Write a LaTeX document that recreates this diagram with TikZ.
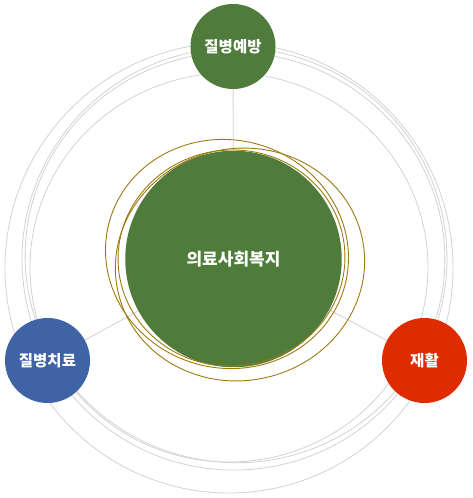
\documentclass[tikz,border=0pt]{standalone}
\usepackage{fontspec}
\setmainfont{Noto Sans CJK KR}
\definecolor{cgreen}{HTML}{507C3B}
\definecolor{cblue}{HTML}{4063A6}
\definecolor{cred}{HTML}{DF2B00}
\definecolor{cgold}{HTML}{9C7A12}
\definecolor{cgray}{HTML}{D2D2D2}
\tikzset{
  orb/.style={circle, inner sep=0pt, text=white, font=\fontsize{15.5}{18}\selectfont\bfseries},
  ring/.style={draw=cgray, line width=0.8pt},
  goldring/.style={draw=cgold, line width=0.9pt},
  link/.style={draw=cgray, line width=0.8pt}
}
\begin{document}
\begin{tikzpicture}[x=1pt,y=-1pt]
\useasboundingbox (0,0) rectangle (472,498);
% gray orbit rings
\draw[ring] (229,268) ellipse [x radius=224, y radius=225];
\draw[ring, rotate around={8:(234.5,259)}] (234.5,259) ellipse [x radius=212.5, y radius=211];
\draw[ring, rotate around={-10:(235,257.5)}] (235,257.5) ellipse [x radius=210, y radius=205];
\draw[ring] (229,267.5) ellipse [x radius=199, y radius=194.5];
% nodes (positions)
\coordinate (cc) at (233.5,259);
\coordinate (tc) at (233,46.5);
\coordinate (lc) at (47.5,360.5);
\coordinate (rc) at (424.5,360.5);
% connectors
\draw[link] (cc) -- (tc);
\draw[link] (cc) -- (lc);
\draw[link] (cc) -- (rc);
% center
\node[orb, fill=cgreen, minimum size=216.5pt, font=\fontsize{17}{20}\selectfont\bfseries] (center) at (cc) {의료사회복지};
% gold rings
\draw[goldring, rotate around={-15:(227,254)}] (227,254) ellipse [x radius=122, y radius=114];
\draw[goldring, rotate around={12:(240,264.5)}] (240,264.5) ellipse [x radius=125, y radius=116];
\draw[goldring, rotate around={5:(231.5,258)}] (231.5,258) ellipse [x radius=113.5, y radius=108];
% outer nodes
\node[orb, fill=cgreen, minimum size=85pt] (top) at (tc) {질병예방};
\node[orb, fill=cblue, minimum size=85pt] (left) at (lc) {질병치료};
\node[orb, fill=cred, minimum size=85pt] (right) at (rc) {재활};
\end{tikzpicture}
\end{document}
